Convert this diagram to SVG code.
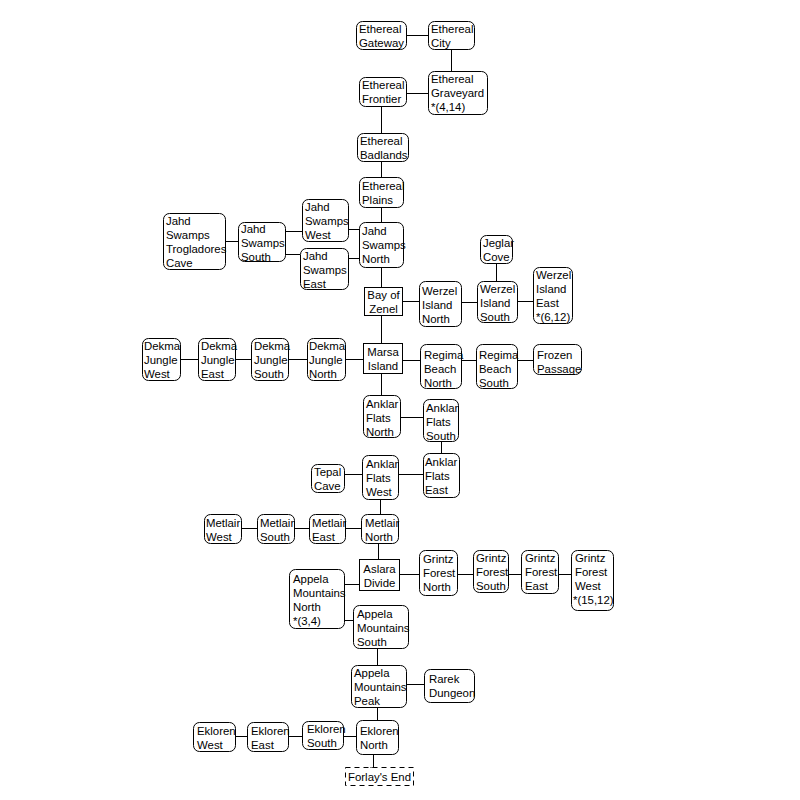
<svg xmlns="http://www.w3.org/2000/svg" width="800" height="800" viewBox="0 0 800 800">
<style>
.n rect{fill:#fff;stroke:#000;stroke-width:1}
.r rect{rx:6px;ry:6px}
.d rect{stroke-dasharray:5,4}
text{font-family:"Liberation Sans",Arial,sans-serif;font-size:11.4px;fill:#000}
.c text{text-anchor:middle}
#connectors line{stroke:#000;stroke-width:1}
</style>
<rect width="800" height="800" fill="#fff"/>
<g id="connectors">
<line x1="406" y1="35.5" x2="428" y2="35.5"/>
<line x1="451.5" y1="49" x2="451.5" y2="71"/>
<line x1="406" y1="93.5" x2="428" y2="93.5"/>
<line x1="381.5" y1="106" x2="381.5" y2="133"/>
<line x1="381.5" y1="161" x2="381.5" y2="177"/>
<line x1="381.5" y1="207" x2="381.5" y2="222"/>
<line x1="348" y1="229.5" x2="359" y2="229.5"/>
<line x1="348" y1="258.5" x2="359" y2="258.5"/>
<line x1="285" y1="231.5" x2="302" y2="231.5"/>
<line x1="285" y1="254.5" x2="300" y2="254.5"/>
<line x1="225" y1="241.5" x2="238" y2="241.5"/>
<line x1="381.5" y1="267" x2="381.5" y2="287"/>
<line x1="402" y1="301.5" x2="419" y2="301.5"/>
<line x1="461" y1="302.5" x2="477" y2="302.5"/>
<line x1="517" y1="301.5" x2="533" y2="301.5"/>
<line x1="496.5" y1="263" x2="496.5" y2="281"/>
<line x1="381.5" y1="315" x2="381.5" y2="343"/>
<line x1="180" y1="359.5" x2="198" y2="359.5"/>
<line x1="235" y1="359.5" x2="251" y2="359.5"/>
<line x1="288" y1="359.5" x2="307" y2="359.5"/>
<line x1="345" y1="359.5" x2="363" y2="359.5"/>
<line x1="402" y1="360.5" x2="420" y2="360.5"/>
<line x1="461" y1="360.5" x2="476" y2="360.5"/>
<line x1="517" y1="360.5" x2="533" y2="360.5"/>
<line x1="381.5" y1="373" x2="381.5" y2="395"/>
<line x1="400" y1="417.5" x2="423" y2="417.5"/>
<line x1="441.5" y1="441" x2="441.5" y2="453"/>
<line x1="344" y1="474.5" x2="362" y2="474.5"/>
<line x1="398" y1="474.5" x2="423" y2="474.5"/>
<line x1="380.5" y1="499" x2="380.5" y2="514"/>
<line x1="241" y1="528.5" x2="257" y2="528.5"/>
<line x1="294" y1="528.5" x2="309" y2="528.5"/>
<line x1="345" y1="528.5" x2="361" y2="528.5"/>
<line x1="378.5" y1="543" x2="378.5" y2="559"/>
<line x1="399" y1="574.5" x2="419" y2="574.5"/>
<line x1="457" y1="574.5" x2="473" y2="574.5"/>
<line x1="508" y1="574.5" x2="521" y2="574.5"/>
<line x1="558" y1="574.5" x2="571" y2="574.5"/>
<line x1="344" y1="584.5" x2="359" y2="584.5"/>
<line x1="344" y1="620.5" x2="353" y2="620.5"/>
<line x1="377.5" y1="648" x2="377.5" y2="665"/>
<line x1="406" y1="684.5" x2="424" y2="684.5"/>
<line x1="377.5" y1="707" x2="377.5" y2="720"/>
<line x1="235" y1="736.5" x2="247" y2="736.5"/>
<line x1="288" y1="736.5" x2="302" y2="736.5"/>
<line x1="343" y1="736.5" x2="356" y2="736.5"/>
<line x1="373.5" y1="754" x2="373.5" y2="767"/>
<line x1="370" y1="767.5" x2="377" y2="767.5"/>
</g>

<g id="ethereal-gateway" class="n r"><rect x="356.5" y="21.5" width="50" height="28"/><text x="359" y="33">Ethereal</text><text x="359" y="47">Gateway</text></g>
<g id="ethereal-city" class="n r"><rect x="428.5" y="21.5" width="46" height="28"/><text x="431" y="33">Ethereal</text><text x="431" y="47">City</text></g>
<g id="ethereal-graveyard" class="n r"><rect x="428.5" y="71.5" width="59" height="43"/><text x="431" y="83">Ethereal</text><text x="431" y="97">Graveyard</text><text x="431" y="111">*(4,14)</text></g>
<g id="ethereal-frontier" class="n r"><rect x="359.5" y="77.5" width="47" height="29"/><text x="362" y="89">Ethereal</text><text x="362" y="103">Frontier</text></g>
<g id="ethereal-badlands" class="n r"><rect x="357.5" y="133.5" width="51" height="28"/><text x="360" y="145">Ethereal</text><text x="360" y="159">Badlands</text></g>
<g id="ethereal-plains" class="n r"><rect x="359.5" y="177.5" width="44" height="30"/><text x="362" y="190">Ethereal</text><text x="362" y="204">Plains</text></g>
<g id="jahd-swamps-north" class="n r"><rect x="359.5" y="222.5" width="44" height="45"/><text x="362" y="235">Jahd</text><text x="362" y="249">Swamps</text><text x="362" y="263">North</text></g>
<g id="jahd-swamps-west" class="n r"><rect x="302.5" y="199.5" width="46" height="42"/><text x="305" y="211">Jahd</text><text x="305" y="225">Swamps</text><text x="305" y="239">West</text></g>
<g id="jahd-swamps-east" class="n r"><rect x="300.5" y="248.5" width="48" height="41"/><text x="303" y="260">Jahd</text><text x="303" y="274">Swamps</text><text x="303" y="288">East</text></g>
<g id="jahd-swamps-south" class="n r"><rect x="238.5" y="222.5" width="47" height="39"/><text x="241" y="233">Jahd</text><text x="241" y="247">Swamps</text><text x="241" y="261">South</text></g>
<g id="jahd-swamps-trogladores-cave" class="n r"><rect x="163.5" y="213.5" width="62" height="56"/><text x="166" y="225">Jahd</text><text x="166" y="239">Swamps</text><text x="166" y="253">Trogladores</text><text x="166" y="267">Cave</text></g>
<g id="bay-of-zenel" class="n c"><rect x="364.5" y="287.5" width="38" height="28"/><text x="383.5" y="299">Bay of</text><text x="383.5" y="313">Zenel</text></g>
<g id="werzel-island-north" class="n r"><rect x="419.5" y="281.5" width="42" height="45"/><text x="422" y="295">Werzel</text><text x="422" y="309">Island</text><text x="422" y="323">North</text></g>
<g id="werzel-island-south" class="n r"><rect x="477.5" y="281.5" width="40" height="41"/><text x="480" y="293">Werzel</text><text x="480" y="307">Island</text><text x="480" y="321">South</text></g>
<g id="jeglar-cove" class="n r"><rect x="480.5" y="235.5" width="32" height="28"/><text x="483" y="247">Jeglar</text><text x="483" y="261">Cove</text></g>
<g id="werzel-island-east" class="n r"><rect x="533.5" y="267.5" width="39" height="56"/><text x="536" y="279">Werzel</text><text x="536" y="293">Island</text><text x="536" y="307">East</text><text x="536" y="321">*(6,12)</text></g>
<g id="dekma-jungle-west" class="n r"><rect x="142.5" y="338.5" width="38" height="42"/><text x="144" y="350">Dekma</text><text x="144" y="364">Jungle</text><text x="144" y="378">West</text></g>
<g id="dekma-jungle-east" class="n r"><rect x="198.5" y="338.5" width="37" height="42"/><text x="201" y="350">Dekma</text><text x="201" y="364">Jungle</text><text x="201" y="378">East</text></g>
<g id="dekma-jungle-south" class="n r"><rect x="251.5" y="338.5" width="37" height="42"/><text x="254" y="350">Dekma</text><text x="254" y="364">Jungle</text><text x="254" y="378">South</text></g>
<g id="dekma-jungle-north" class="n r"><rect x="307.5" y="338.5" width="38" height="42"/><text x="309" y="350">Dekma</text><text x="309" y="364">Jungle</text><text x="309" y="378">North</text></g>
<g id="marsa-island" class="n c"><rect x="363.5" y="343.5" width="39" height="30"/><text x="383" y="356">Marsa</text><text x="383" y="370">Island</text></g>
<g id="regima-beach-north" class="n r"><rect x="420.5" y="344.5" width="41" height="44"/><text x="424" y="359">Regima</text><text x="424" y="373">Beach</text><text x="424" y="387">North</text></g>
<g id="regima-beach-south" class="n r"><rect x="476.5" y="344.5" width="41" height="44"/><text x="479" y="359">Regima</text><text x="479" y="373">Beach</text><text x="479" y="387">South</text></g>
<g id="frozen-passage" class="n r"><rect x="533.5" y="344.5" width="48" height="30"/><text x="537" y="359">Frozen</text><text x="537" y="373">Passage</text></g>
<g id="anklar-flats-north" class="n r"><rect x="363.5" y="395.5" width="37" height="42"/><text x="366" y="408">Anklar</text><text x="366" y="422">Flats</text><text x="366" y="436">North</text></g>
<g id="anklar-flats-south" class="n r"><rect x="423.5" y="399.5" width="35" height="42"/><text x="426" y="412">Anklar</text><text x="426" y="426">Flats</text><text x="426" y="440">South</text></g>
<g id="anklar-flats-west" class="n r"><rect x="362.5" y="455.5" width="36" height="44"/><text x="366" y="468">Anklar</text><text x="366" y="482">Flats</text><text x="366" y="496">West</text></g>
<g id="anklar-flats-east" class="n r"><rect x="423.5" y="453.5" width="36" height="44"/><text x="425" y="466">Anklar</text><text x="425" y="480">Flats</text><text x="425" y="494">East</text></g>
<g id="tepal-cave" class="n r"><rect x="311.5" y="464.5" width="33" height="28"/><text x="314" y="476">Tepal</text><text x="314" y="490">Cave</text></g>
<g id="metlair-north" class="n r"><rect x="361.5" y="514.5" width="37" height="29"/><text x="365" y="527">Metlair</text><text x="365" y="541">North</text></g>
<g id="metlair-east" class="n r"><rect x="309.5" y="514.5" width="36" height="29"/><text x="312" y="527">Metlair</text><text x="312" y="541">East</text></g>
<g id="metlair-south" class="n r"><rect x="257.5" y="514.5" width="37" height="29"/><text x="260" y="527">Metlair</text><text x="260" y="541">South</text></g>
<g id="metlair-west" class="n r"><rect x="204.5" y="514.5" width="37" height="29"/><text x="206" y="527">Metlair</text><text x="206" y="541">West</text></g>
<g id="aslara-divide" class="n c"><rect x="359.5" y="559.5" width="40" height="31"/><text x="379.5" y="573">Aslara</text><text x="379.5" y="587">Divide</text></g>
<g id="grintz-forest-north" class="n r"><rect x="419.5" y="550.5" width="38" height="45"/><text x="423" y="563">Grintz</text><text x="423" y="577">Forest</text><text x="423" y="591">North</text></g>
<g id="grintz-forest-south" class="n r"><rect x="473.5" y="550.5" width="35" height="42"/><text x="476" y="562">Grintz</text><text x="476" y="576">Forest</text><text x="476" y="590">South</text></g>
<g id="grintz-forest-east" class="n r"><rect x="521.5" y="550.5" width="37" height="43"/><text x="525" y="562">Grintz</text><text x="525" y="576">Forest</text><text x="525" y="590">East</text></g>
<g id="grintz-forest-west" class="n r"><rect x="571.5" y="550.5" width="42" height="60"/><text x="575" y="562">Grintz</text><text x="575" y="576">Forest</text><text x="575" y="590">West</text><text x="573" y="604">*(15,12)</text></g>
<g id="appela-mountains-north" class="n r"><rect x="289.5" y="569.5" width="55" height="59"/><text x="293" y="583">Appela</text><text x="293" y="597">Mountains</text><text x="293" y="611">North</text><text x="293" y="625">*(3,4)</text></g>
<g id="appela-mountains-south" class="n r"><rect x="353.5" y="605.5" width="55" height="43"/><text x="357" y="618">Appela</text><text x="357" y="632">Mountains</text><text x="357" y="646">South</text></g>
<g id="appela-mountains-peak" class="n r"><rect x="351.5" y="665.5" width="55" height="42"/><text x="354" y="677">Appela</text><text x="354" y="691">Mountains</text><text x="354" y="705">Peak</text></g>
<g id="rarek-dungeon" class="n r"><rect x="424.5" y="669.5" width="50" height="33"/><text x="429" y="683">Rarek</text><text x="429" y="697">Dungeon</text></g>
<g id="ekloren-north" class="n r"><rect x="356.5" y="720.5" width="42" height="34"/><text x="360" y="735">Ekloren</text><text x="360" y="749">North</text></g>
<g id="ekloren-south" class="n r"><rect x="302.5" y="721.5" width="41" height="28"/><text x="307" y="733">Ekloren</text><text x="307" y="747">South</text></g>
<g id="ekloren-east" class="n r"><rect x="247.5" y="722.5" width="41" height="29"/><text x="251" y="735">Ekloren</text><text x="251" y="749">East</text></g>
<g id="ekloren-west" class="n r"><rect x="193.5" y="722.5" width="42" height="29"/><text x="197" y="735">Ekloren</text><text x="197" y="749">West</text></g>
<g id="forlays-end" class="n d c"><rect x="345.5" y="767.5" width="68" height="18"/><text x="379.5" y="781">Forlay's End</text></g>
</svg>
